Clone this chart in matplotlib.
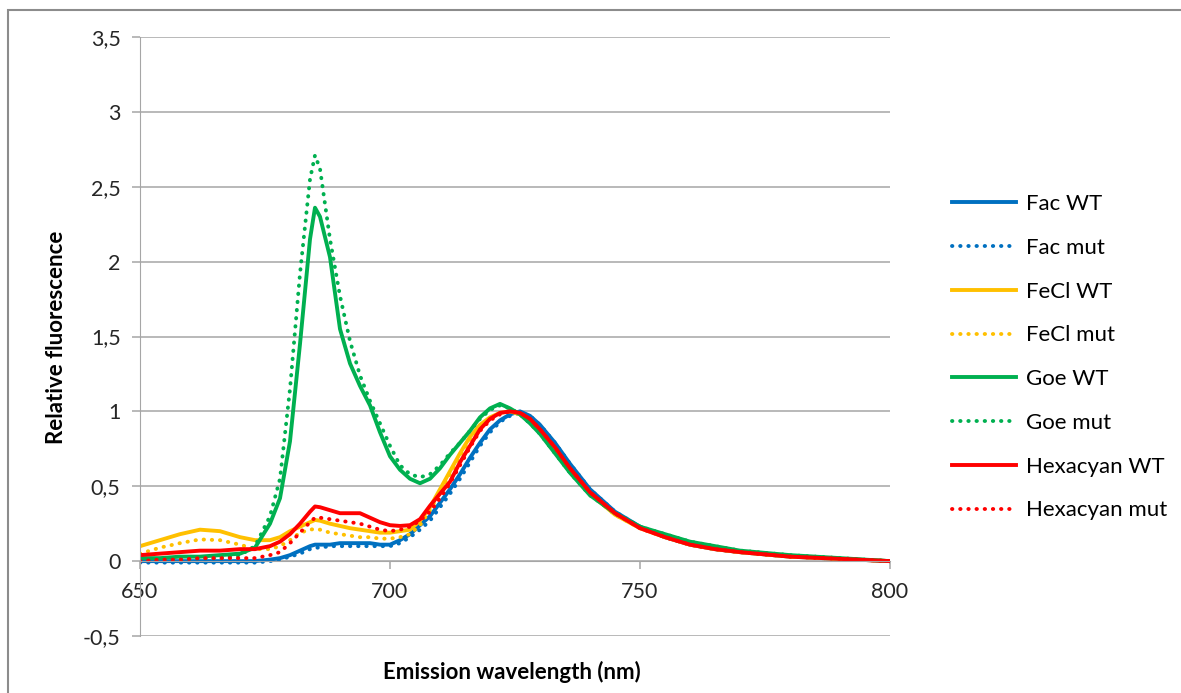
import matplotlib
matplotlib.use("Agg")
from matplotlib import pyplot as plt
from matplotlib.patches import Rectangle
from matplotlib.ticker import FuncFormatter

plt.rcParams['font.family'] = ['Lato', 'DejaVu Sans']

# emission wavelength (nm)
wl = [650, 654, 658, 662, 666, 670, 673, 676, 678, 680, 682, 684, 685, 686, 688, 690,
      692, 694, 696, 698, 700, 702, 704, 706, 708, 710, 712, 714, 716, 718, 720, 722,
      724, 726, 728, 730, 733, 736, 740, 745, 750, 755, 760, 765, 770, 780, 790, 800]

# relative fluorescence
fac_wt = [0.00, 0.00, 0.00, 0.00, 0.00, 0.00, 0.00, 0.01, 0.02, 0.04, 0.07, 0.10, 0.11, 0.11, 0.11, 0.12,
          0.12, 0.12, 0.12, 0.11, 0.11, 0.14, 0.18, 0.24, 0.30, 0.39, 0.48, 0.58, 0.69, 0.79, 0.88, 0.94,
          0.98, 1.00, 0.97, 0.91, 0.79, 0.65, 0.48, 0.33, 0.23, 0.16, 0.11, 0.08, 0.06, 0.03, 0.015, 0.0]
fac_mut = [-0.01, -0.01, -0.01, -0.01, -0.01, -0.01, -0.01, 0.00, 0.01, 0.03, 0.05, 0.08, 0.09, 0.09, 0.10, 0.10,
           0.10, 0.10, 0.10, 0.10, 0.10, 0.12, 0.16, 0.21, 0.27, 0.36, 0.45, 0.55, 0.66, 0.77, 0.86, 0.93,
           0.97, 0.99, 0.97, 0.91, 0.79, 0.65, 0.48, 0.33, 0.23, 0.16, 0.11, 0.08, 0.06, 0.03, 0.015, 0.0]
fecl_wt = [0.10, 0.14, 0.18, 0.21, 0.20, 0.16, 0.14, 0.14, 0.16, 0.20, 0.23, 0.26, 0.275, 0.27, 0.25, 0.235,
           0.22, 0.21, 0.20, 0.19, 0.19, 0.20, 0.21, 0.27, 0.36, 0.48, 0.60, 0.72, 0.83, 0.91, 0.96, 0.99,
           1.00, 0.98, 0.93, 0.86, 0.74, 0.60, 0.45, 0.31, 0.22, 0.16, 0.11, 0.08, 0.06, 0.03, 0.015, 0.0]
fecl_mut = [0.05, 0.09, 0.12, 0.145, 0.14, 0.11, 0.08, 0.08, 0.10, 0.14, 0.19, 0.21, 0.215, 0.21, 0.19, 0.18,
            0.17, 0.16, 0.16, 0.15, 0.15, 0.16, 0.18, 0.24, 0.34, 0.46, 0.58, 0.70, 0.81, 0.90, 0.95, 0.99,
            1.00, 0.98, 0.93, 0.86, 0.74, 0.60, 0.45, 0.31, 0.22, 0.16, 0.11, 0.08, 0.06, 0.03, 0.015, 0.0]
goe_wt = [0.02, 0.02, 0.03, 0.03, 0.04, 0.05, 0.09, 0.25, 0.42, 0.80, 1.45, 2.15, 2.36, 2.30, 2.03, 1.55,
          1.32, 1.17, 1.04, 0.86, 0.70, 0.61, 0.55, 0.52, 0.55, 0.62, 0.71, 0.79, 0.87, 0.96, 1.02, 1.05,
          1.02, 0.98, 0.92, 0.85, 0.72, 0.59, 0.44, 0.32, 0.23, 0.18, 0.13, 0.10, 0.07, 0.04, 0.02, 0.0]
goe_mut = [0.01, 0.01, 0.01, 0.02, 0.02, 0.04, 0.10, 0.30, 0.55, 1.15, 1.92, 2.55, 2.71, 2.62, 2.15, 1.77,
           1.47, 1.24, 1.07, 0.92, 0.77, 0.64, 0.58, 0.56, 0.58, 0.64, 0.72, 0.79, 0.87, 0.95, 1.01, 1.04,
           1.02, 0.98, 0.92, 0.85, 0.72, 0.59, 0.44, 0.32, 0.23, 0.18, 0.13, 0.10, 0.07, 0.04, 0.02, 0.0]
hexa_wt = [0.04, 0.05, 0.06, 0.07, 0.07, 0.08, 0.08, 0.10, 0.13, 0.18, 0.25, 0.33, 0.365, 0.36, 0.34, 0.32,
           0.32, 0.32, 0.29, 0.26, 0.24, 0.235, 0.24, 0.28, 0.37, 0.45, 0.53, 0.66, 0.77, 0.88, 0.95, 0.99,
           1.00, 0.99, 0.95, 0.88, 0.76, 0.62, 0.46, 0.32, 0.22, 0.16, 0.11, 0.08, 0.06, 0.03, 0.015, 0.0]
hexa_mut = [0.00, 0.01, 0.01, 0.02, 0.02, 0.02, 0.02, 0.04, 0.06, 0.12, 0.19, 0.26, 0.29, 0.29, 0.28, 0.27,
            0.26, 0.25, 0.23, 0.21, 0.20, 0.21, 0.23, 0.27, 0.33, 0.42, 0.52, 0.64, 0.76, 0.87, 0.94, 0.98,
            1.00, 0.99, 0.95, 0.88, 0.76, 0.62, 0.46, 0.32, 0.22, 0.16, 0.11, 0.08, 0.06, 0.03, 0.015, 0.0]

series = [("Fac WT", fac_wt), ("Fac mut", fac_mut),
          ("FeCl WT", fecl_wt), ("FeCl mut", fecl_mut),
          ("Goe WT", goe_wt), ("Goe mut", goe_mut),
          ("Hexacyan WT", hexa_wt), ("Hexacyan mut", hexa_mut)]
colors = ['#0070C0', '#FFC000', '#00B050', '#FF0000']

W, H = 1181, 693
fig = plt.figure(figsize=(W / 100, H / 100), dpi=100)
# chart area border (Excel style)
fig.patches.append(Rectangle((8 / W, -0.05), 1.1, (H - 10) / H + 0.05, transform=fig.transFigure,
                             fill=False, edgecolor='#8c8c8c', linewidth=1.5))

ax = fig.add_axes([140 / W, (H - 636) / H, 750 / W, 599 / H])

for i, (name, vals) in enumerate(series):
    c = colors[i // 2]
    if i % 2 == 0:
        ax.plot(wl, vals, color=c, linewidth=2.8, label=name, solid_joinstyle='round')
    else:
        ax.plot(wl, vals, color=c, linewidth=2.8, linestyle=(0, (0.1, 2.0)),
                dash_capstyle='round', label=name)

ax.set_xlim(650, 800)
ax.set_ylim(-0.5, 3.5)
ax.set_xticks([650, 700, 750, 800])
ax.set_yticks([-0.5, 0, 0.5, 1, 1.5, 2, 2.5, 3, 3.5])
ax.yaxis.set_major_formatter(FuncFormatter(lambda v, p: ('%g' % v).replace('.', ',')))
ax.grid(axis='y', color='#a6a6a6', linewidth=1.1)
ax.set_axisbelow(True)

for s in ['top', 'right']:
    ax.spines[s].set_visible(False)
ax.spines['bottom'].set_position(('data', 0))
ax.spines['bottom'].set_color('#a6a6a6')
ax.spines['left'].set_color('#a6a6a6')
ax.tick_params(axis='both', colors='#a6a6a6', labelcolor='#262626', labelsize=15.5, length=6, width=1.1)
ax.tick_params(axis='y', pad=8)
ax.tick_params(axis='x', pad=9)

fig.text(512 / W, 1 - 672 / H, 'Emission wavelength (nm)', ha='center', va='center',
         fontsize=16, fontweight='bold')
fig.text(57 / W, 1 - 337 / H, 'Relative fluorescence', ha='center', va='center',
         rotation=90, fontsize=16, fontweight='bold')

fig.legend(loc='upper left', bbox_to_anchor=(932 / W, 1 - 174 / H), frameon=False,
           fontsize=16, handlelength=2.9, labelspacing=1.07, handletextpad=0.45)

fig.savefig('out.png', dpi=100)
